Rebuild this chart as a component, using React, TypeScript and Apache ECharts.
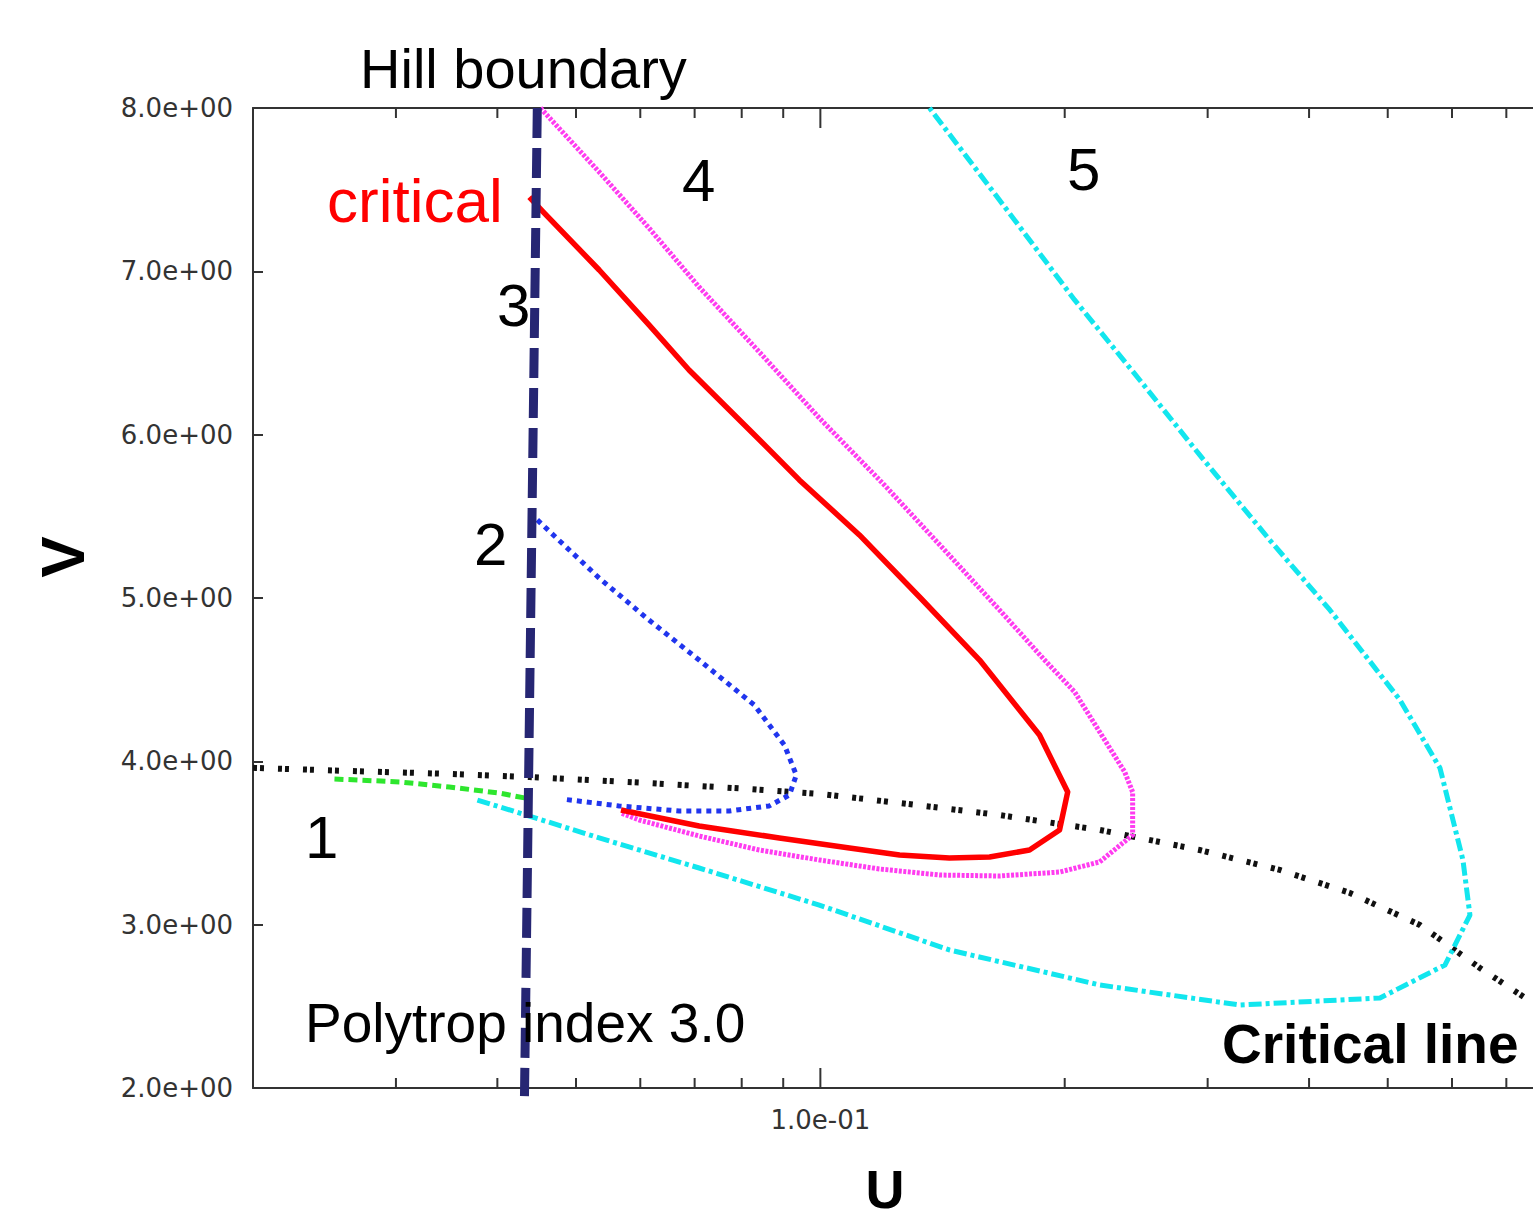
import React, { useEffect, useRef } from "react";
import * as echarts from "echarts";

// ---- Data (U on log axis, V linear) ----
const hillU = [0.0448, 0.0432];
const hillV = [8.0, 1.95];

const critLineU = [0.02, 0.0263, 0.0349, 0.0438, 0.0615, 0.0818, 0.1, 0.1252, 0.1662, 0.2208, 0.2933, 0.3681, 0.4492, 0.5478, 0.6494, 0.755];
const critLineV = [3.96, 3.941, 3.923, 3.904, 3.867, 3.831, 3.8, 3.745, 3.671, 3.58, 3.457, 3.335, 3.194, 2.998, 2.735, 2.52];

const greenU = [0.0252, 0.0303, 0.0349, 0.0402, 0.0432];
const greenV = [3.892, 3.874, 3.843, 3.806, 3.776];

const blueU = [0.0448, 0.0534, 0.0615, 0.0709, 0.0829, 0.0903, 0.0934, 0.0916, 0.0865, 0.0772, 0.067, 0.0565, 0.0481];
const blueV = [5.478, 5.122, 4.865, 4.62, 4.345, 4.1, 3.916, 3.794, 3.727, 3.696, 3.696, 3.727, 3.769];

const redU = [0.0438, 0.0457, 0.0534, 0.0615, 0.0689, 0.0818, 0.0942, 0.1117, 0.1325, 0.1571, 0.1862, 0.2017, 0.1971, 0.181, 0.1616, 0.1442, 0.1252, 0.1086, 0.089, 0.0709, 0.0568];
const redV = [7.455, 7.357, 7.008, 6.672, 6.396, 6.029, 5.723, 5.386, 5.006, 4.62, 4.161, 3.812, 3.58, 3.457, 3.414, 3.408, 3.427, 3.469, 3.531, 3.604, 3.702];

const magentaU = [0.0452, 0.0534, 0.0615, 0.0709, 0.0841, 0.0997, 0.1199, 0.1422, 0.1662, 0.1889, 0.2057, 0.224, 0.2371, 0.2425, 0.2425, 0.2208, 0.1971, 0.1662, 0.1402, 0.1182, 0.0997, 0.0841, 0.0709, 0.0598, 0.0568];
const magentaV = [8.0, 7.608, 7.265, 6.904, 6.506, 6.102, 5.692, 5.294, 4.927, 4.62, 4.425, 4.131, 3.935, 3.812, 3.549, 3.384, 3.322, 3.298, 3.304, 3.341, 3.396, 3.457, 3.543, 3.641, 3.684];

const cyanU = [0.0378, 0.0438, 0.0534, 0.0709, 0.0997, 0.1442, 0.2208, 0.3286, 0.4891, 0.5881, 0.6313, 0.6189, 0.5799, 0.5176, 0.4243, 0.3578, 0.2933, 0.2474, 0.2057, 0.1662, 0.1363];
const cyanV = [3.763, 3.665, 3.531, 3.347, 3.12, 2.845, 2.631, 2.508, 2.551, 2.753, 3.059, 3.396, 3.959, 4.376, 4.927, 5.355, 5.876, 6.335, 6.825, 7.437, 8.0];

const tickU = [0.03, 0.04, 0.05, 0.06, 0.07, 0.08, 0.09, 0.1, 0.2, 0.3, 0.4, 0.5, 0.6, 0.7];
const tickMajor = [0, 0, 0, 0, 0, 0, 0, 1, 0, 0, 0, 0, 0, 0];

const zip = (u: number[], v: number[]) => u.map((x, i) => [x, v[i]]);

const SANS = "'Liberation Sans', Arial, Helvetica, sans-serif";
const LABEL_FONT = "'DejaVu Sans', sans-serif";

function lineSeries(name: string, u: number[], v: number[], color: string, width: number, type: any, extra: any = {}) {
  return {
    name,
    type: "line",
    data: zip(u, v),
    showSymbol: false,
    symbol: "none",
    smooth: false,
    lineStyle: { color, width, type, cap: "butt", join: "round" },
    z: 3,
    ...extra,
  };
}

export default function App() {
  const ref = useRef<HTMLDivElement>(null);
  useEffect(() => {
    if (!ref.current) return;
    const chart = echarts.init(ref.current, undefined, { renderer: "svg" });
    const txt = (text: string, x: number, y: number, size: number, opts: any = {}) => ({
      type: "text",
      x,
      y,
      rotation: opts.rotation || 0,
      style: {
        text,
        fill: opts.color || "#000",
        font: `${opts.bold ? "bold " : ""}${size}px ${SANS}`,
        align: opts.align || "left",
        verticalAlign: "middle",
      },
      z: 10,
    });
    chart.setOption({
      animation: false,
      backgroundColor: "#fff",
      grid: { left: 253, top: 108, right: 0, bottom: 1221 - 1088, containLabel: false },
      xAxis: [
        {
          type: "log",
          logBase: 10,
          min: 0.02,
          max: 0.755,
          position: "bottom",
          axisLine: { show: true, lineStyle: { color: "#333", width: 2 } },
          axisTick: { show: false },
          splitLine: { show: false },
          minorTick: { show: false },
          axisLabel: {
            show: true,
            margin: 19,
            color: "#333",
            fontSize: 26,
            fontFamily: LABEL_FONT,
            showMinLabel: false,
            showMaxLabel: false,
            formatter: (v: number) => (Math.abs(v - 0.1) < 1e-6 ? "1.0e-01" : ""),
          },
        },
        {
          type: "log",
          logBase: 10,
          min: 0.02,
          max: 0.755,
          position: "top",
          axisLine: { show: true, lineStyle: { color: "#333", width: 2 } },
          axisTick: { show: false },
          splitLine: { show: false },
          axisLabel: { show: false },
        },
      ],
      yAxis: {
        type: "value",
        min: 2,
        max: 8,
        interval: 1,
        axisLine: { show: true, lineStyle: { color: "#333", width: 2 } },
        axisTick: { show: true, inside: true, length: 10, lineStyle: { color: "#333", width: 2 } },
        splitLine: { show: false },
        axisLabel: {
          margin: 20,
          color: "#333",
          fontSize: 26,
          fontFamily: LABEL_FONT,
          formatter: (v: number) => v.toFixed(1) + "e+00",
        },
      },
      series: [
        {
          type: "custom",
          name: "ticks",
          xAxisIndex: 0,
          data: tickU.map((u, i) => [u, 2, tickMajor[i]]),
          encode: { x: 0, y: 1 },
          z: 2,
          renderItem: (params: any, api: any) => {
            const v = api.value(0);
            const len = api.value(2) ? 20 : 10;
            const b = api.coord([v, 2]);
            const t = api.coord([v, 8]);
            return {
              type: "group",
              children: [
                { type: "line", shape: { x1: b[0], y1: b[1], x2: b[0], y2: b[1] - len }, style: { stroke: "#333", lineWidth: 2 } },
                { type: "line", shape: { x1: t[0], y1: t[1], x2: t[0], y2: t[1] + len }, style: { stroke: "#333", lineWidth: 2 } },
              ],
            };
          },
        },
        lineSeries("Critical line", critLineU, critLineV, "#111", 6, [4, 3, 4, 14]),
        lineSeries("5", cyanU, cyanV, "#12e6ee", 5, [13, 4, 4, 4]),
        lineSeries("4", magentaU, magentaV, "#ff3cf0", 5, [3, 1.5]),
        lineSeries("critical", redU, redV, "#ff0000", 5.5, "solid"),
        lineSeries("2", blueU, blueV, "#2035ee", 5, [5, 5]),
        lineSeries("1", greenU, greenV, "#2ee62e", 5, [9, 5]),
        lineSeries("Hill boundary", hillU, hillV, "#262673", 9, [30, 10], { clip: false, z: 5 }),
      ],
      graphic: [
        txt("Hill boundary", 360, 68, 56),
        txt("critical", 327, 200, 62, { color: "#ff0000" }),
        txt("3", 497, 305, 60),
        txt("4", 682, 180, 60),
        txt("5", 1067, 169, 60),
        txt("2", 474, 544, 60),
        txt("1", 305, 837, 60),
        txt("Polytrop index 3.0", 305, 1023, 55),
        txt("Critical line", 1222, 1044, 55, { bold: true }),
        txt("V", 62, 557, 62, { bold: true, align: "center", rotation: Math.PI / 2 }),
        txt("U", 885, 1189, 54, { bold: true, align: "center" }),
      ],
    });
    return () => chart.dispose();
  }, []);
  return (
    <div
      ref={ref}
      style={{ position: "absolute", left: 0, top: 0, width: 1533, height: 1221, background: "#fff" }}
    />
  );
}
